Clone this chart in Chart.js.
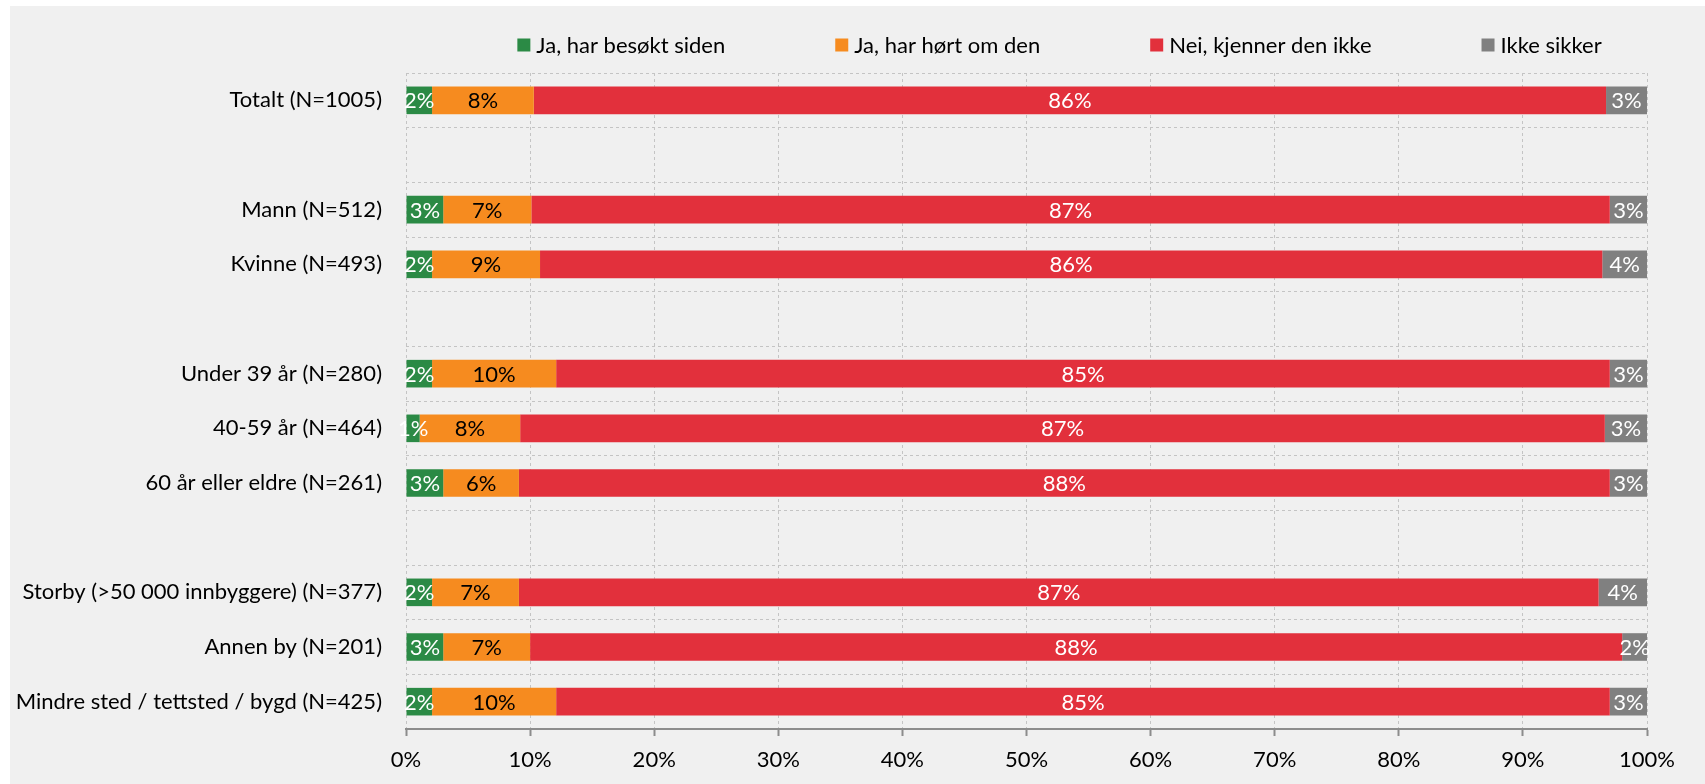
<!DOCTYPE html>
<html>
<head>
<meta charset="utf-8">
<script src="https://cdn.jsdelivr.net/npm/chart.js@4.4.1/dist/chart.umd.min.js"></script>
<style>
  html, body { margin: 0; padding: 0; background: #ffffff; }
  #wrap { width: 1705px; height: 784px; position: relative; }
</style>
</head>
<body>
<div id="wrap"><canvas id="grafico"></canvas></div>
<script>
// Kategorier (tomme rader = mellomrom mellom gruppene)
const kategorier = [
  'Totalt (N=1005)', '',
  'Mann (N=512)', 'Kvinne (N=493)', '',
  'Under 39 år (N=280)', '40-59 år (N=464)', '60 år eller eldre (N=261)', '',
  'Storby (>50 000 innbyggere) (N=377)', 'Annen by (N=201)', 'Mindre sted / tettsted / bygd (N=425)'
];

const serieNavn = ['Ja, har besøkt siden', 'Ja, har hørt om den', 'Nei, kjenner den ikke', 'Ikke sikker'];

// Andeler i prosent, lest av bildet
const besokt   = [2.1, null, 3.0, 2.1, null, 2.1, 1.1, 3.0, null, 2.1, 3.0, 2.1];
const hort     = [8.2, null, 7.1, 8.7, null, 10.0, 8.1, 6.1, null, 7.0, 7.0, 10.0];
const kjenner  = [86.4, null, 86.9, 85.6, null, 84.9, 87.4, 87.9, null, 87.0, 88.0, 84.9];
const ikkeSikker = [3.3, null, 3.0, 3.6, null, 3.0, 3.4, 3.0, null, 3.9, 2.0, 3.0];

const xTicks = [0, 10, 20, 30, 40, 50, 60, 70, 80, 90, 100];

const farger = ['#2b8a45', '#f68b1f', '#e2303c', '#808080'];
const etikettFarger = ['#ffffff', '#000000', '#ffffff', '#ffffff'];

const FONT = 'Lato';
const STR = 22;

// Bakgrunn (grå flate med hvit kant øverst og til venstre)
const bakgrunnPlugin = {
  id: 'bakgrunn',
  beforeDraw(chart) {
    const c = chart.ctx;
    c.save();
    c.fillStyle = '#ffffff';
    c.fillRect(0, 0, chart.width, chart.height);
    c.fillStyle = '#f0f0f0';
    c.fillRect(10, 6, chart.width - 10, chart.height - 6);
    c.restore();
  }
};

// Egen legende: kvadrat + tekst, fast mellomrom mellom elementene
const legendePlugin = {
  id: 'legende',
  afterDraw(chart) {
    const c = chart.ctx;
    const boks = 13, luft = 6, mellom = 110;
    c.save();
    c.font = STR + 'px ' + FONT;
    c.textBaseline = 'middle';
    c.textAlign = 'left';
    const ds = chart.data.datasets;
    const bredder = ds.map(d => c.measureText(d.label).width);
    let total = 0;
    bredder.forEach((b, i) => { total += boks + luft + b + (i < ds.length - 1 ? mellom : 0); });
    const midt = (chart.chartArea.left + chart.chartArea.right) / 2 + 33;
    let x = midt - total / 2;
    const y = 45;
    ds.forEach((d, i) => {
      c.fillStyle = d.backgroundColor;
      c.fillRect(x, y - boks / 2, boks, boks);
      c.fillStyle = '#000000';
      c.fillText(d.label, x + boks + luft, y + 1);
      x += boks + luft + bredder[i] + mellom;
    });
    c.restore();
  }
};

// Prosentetiketter midt i hvert segment
const etikettPlugin = {
  id: 'etiketter',
  afterDatasetsDraw(chart) {
    const c = chart.ctx;
    c.save();
    c.font = STR + 'px ' + FONT;
    c.textAlign = 'center';
    c.textBaseline = 'middle';
    chart.data.datasets.forEach((ds, i) => {
      const meta = chart.getDatasetMeta(i);
      meta.data.forEach((bar, j) => {
        const v = ds.data[j];
        if (v == null) return;
        const p = bar.getProps(['x', 'y', 'base'], true);
        c.fillStyle = etikettFarger[i];
        c.fillText(Math.round(v) + '%', (p.x + p.base) / 2, p.y + 1);
      });
    });
    c.restore();
  }
};

const datasett = [besokt, hort, kjenner, ikkeSikker].map((d, i) => ({
  label: serieNavn[i],
  data: d,
  backgroundColor: farger[i],
  borderWidth: 0,
  barPercentage: 0.505,
  categoryPercentage: 1.0
}));

new Chart(document.getElementById('grafico'), {
  type: 'bar',
  data: { labels: kategorier, datasets: datasett },
  options: {
    indexAxis: 'y',
    responsive: true,
    maintainAspectRatio: false,
    animation: false,
    layout: { padding: { top: 73, right: 58, bottom: 0, left: 0 } },
    plugins: {
      tooltip: { enabled: false },
      legend: { display: false }
    },
    scales: {
      x: {
        stacked: true,
        min: 0,
        max: 100,
        afterBuildTicks(scale) {
          scale.ticks = xTicks.map(v => ({ value: v }));
        },
        afterFit(scale) { scale.height = 55; },
        ticks: {
          callback: v => v + '%',
          font: { family: FONT, size: STR },
          color: '#000000',
          padding: 11,
          maxRotation: 0
        },
        grid: {
          color: '#c4c4c4',
          tickColor: '#8c8c8c',
          tickLength: 7,
          tickBorderDash: [],
          tickWidth: 2,
          drawTicks: true
        },
        border: { display: true, color: '#8c8c8c', width: 2, dash: [3, 3] }
      },
      y: {
        stacked: true,
        afterFit(scale) { scale.width = 406; },
        ticks: {
          font: { family: FONT, size: STR },
          color: '#000000',
          padding: 24
        },
        grid: {
          offset: true,
          color: '#c4c4c4',
          drawTicks: false
        },
        border: { display: false, dash: [3, 3] }
      }
    }
  },
  plugins: [bakgrunnPlugin, legendePlugin, etikettPlugin]
});
</script>
</body>
</html>
